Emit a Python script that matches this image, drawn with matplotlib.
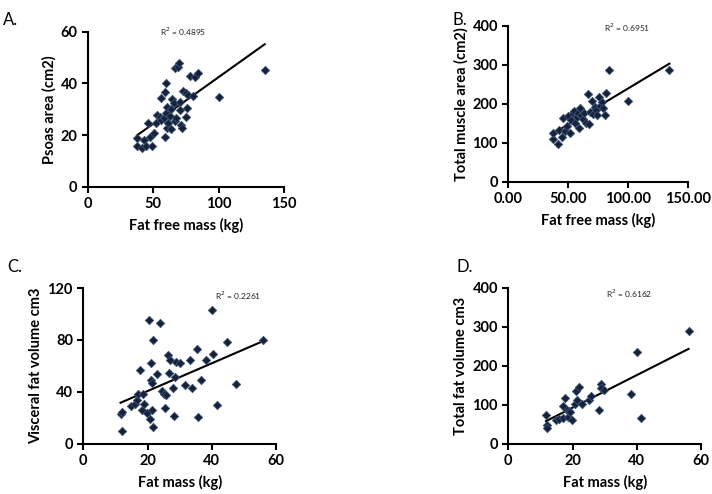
import numpy as np
import matplotlib
matplotlib.use('Agg')
import matplotlib.pyplot as plt

plt.rcParams['font.family'] = ['Lato', 'DejaVu Sans']

# A. psoas area vs fat free mass
a_x = [37.5, 37.8, 41.6, 42.6, 44.6, 45.9, 47.7, 48.7, 50.3, 52.3, 52.8, 54.8, 55.9, 56.1, 57.9,
       58.9, 59.2, 59.9, 59.9, 60.5, 60.7, 61.2, 62.5, 63.3, 63.8, 64.5, 65.6, 66.6, 66.8, 67.6,
       68.9, 69.6, 70.2, 70.2, 71.4, 72.2, 72.7, 74.7, 75.3, 76.0, 76.5, 77.8, 80.4, 81.6, 84.2,
       100.0, 135.2]
a_y = [15.7, 19.0, 15.0, 18.1, 15.7, 24.5, 19.4, 15.7, 20.9, 24.5, 27.7, 27.1, 34.2, 25.8, 26.5,
       19.4, 36.8, 40.3, 28.4, 31.0, 22.6, 24.5, 27.4, 22.2, 29.9, 33.8, 32.5, 45.8, 25.5, 26.5,
       46.4, 47.7, 32.9, 29.7, 23.9, 22.6, 37.2, 36.1, 27.1, 30.3, 35.5, 42.8, 35.1, 42.6, 44.1,
       34.6, 45.2]

# B. total muscle area vs fat free mass
b_x = [36.9, 37.5, 41.7, 42.5, 44.4, 45.8, 47.5, 48.9, 50.0, 51.7, 52.2, 53.6, 55.0, 55.8, 56.9,
       57.8, 58.6, 59.7, 60.6, 61.9, 63.3, 64.7, 66.4, 66.9, 68.1, 69.4, 70.8, 71.9, 73.1, 74.2,
       75.3, 76.4, 78.1, 79.2, 80.8, 81.4, 84.2, 99.4, 134.2]
b_y = [108.5, 123.9, 96.6, 132.5, 115.4, 162.4, 129.9, 142.7, 168.4, 123.9, 158.1, 175.2, 182.1,
       151.3, 166.7, 176.9, 136.8, 188.0, 170.9, 159.8, 175.2, 149.6, 223.9, 147.9, 179.5, 207.7,
       173.5, 192.3, 183.8, 170.9, 217.9, 194.0, 205.1, 188.0, 170.9, 228.2, 286.3, 207.7, 286.3]

# C. visceral fat volume vs fat mass
c_x = [11.6, 12.2, 12.1, 15.0, 16.1, 16.8, 17.1, 17.6, 18.2, 18.5, 18.9, 19.7, 20.4, 20.8, 21.0,
       21.2, 21.3, 21.5, 21.6, 21.8, 22.8, 23.9, 24.4, 25.1, 25.5, 25.7, 26.5, 26.7, 27.0, 28.0,
       28.2, 28.5, 28.9, 30.1, 31.7, 33.2, 33.7, 35.5, 35.8, 36.5, 38.2, 40.0, 40.5, 41.5, 44.6,
       47.5, 56.1]
c_y = [22.6, 24.4, 10.0, 29.3, 30.3, 33.4, 38.5, 56.8, 26.2, 38.5, 30.8, 23.6, 95.1, 19.3, 49.3,
       62.2, 25.7, 46.8, 12.6, 79.7, 53.5, 93.0, 40.6, 38.0, 27.5, 37.5, 68.1, 54.5, 64.8, 42.7,
       21.1, 51.4, 63.0, 62.2, 45.0, 64.3, 42.7, 73.2, 20.6, 49.3, 64.3, 102.8, 69.4, 29.6, 78.4,
       46.3, 80.2]

# D. total fat volume vs fat mass
d_x = [11.7, 12.0, 12.0, 14.8, 15.7, 16.9, 17.1, 17.7, 18.3, 18.5, 19.0, 19.2, 19.8, 20.6, 21.1,
       21.3, 21.9, 22.8, 25.2, 25.7, 28.1, 28.7, 28.9, 29.9, 38.1, 40.1, 41.3, 56.1]
d_y = [74.4, 47.0, 41.0, 59.8, 64.1, 97.4, 65.8, 117.9, 87.2, 68.4, 83.8, 81.2, 61.5, 102.6, 135.0,
       111.1, 145.3, 102.6, 111.1, 121.4, 85.5, 153.8, 143.6, 136.8, 128.2, 234.2, 65.0, 289.7]

panels = [
    dict(x=a_x, y=a_y, r2='R$^2$ = 0.4895', r2_pos=(73, 60), letter='A.', letter_pos=(0.004, 0.975),
         rect=[0.1236, 0.622, 0.2753, 0.3138], xlim=(0, 150), ylim=(0, 60),
         xticks=[0, 50, 100, 150], yticks=[0, 20, 40, 60], xfmt='{:.0f}',
         xlabel='Fat free mass (kg)', ylabel='Psoas area (cm2)'),
    dict(x=b_x, y=b_y, r2='R$^2$ = 0.6951', r2_pos=(99, 396), letter='B.', letter_pos=(0.636, 0.975),
         rect=[0.714, 0.632, 0.2528, 0.3158], xlim=(0, 150), ylim=(0, 400),
         xticks=[0, 50, 100, 150], yticks=[0, 100, 200, 300, 400], xfmt='{:.2f}',
         xlabel='Fat free mass (kg)', ylabel='Total muscle area (cm2)'),
    dict(x=c_x, y=c_y, r2='R$^2$ = 0.2261', r2_pos=(48.3, 114), letter='C.', letter_pos=(0.01, 0.475),
         rect=[0.117, 0.1018, 0.2706, 0.315], xlim=(0, 60), ylim=(0, 120),
         xticks=[0, 20, 40, 60], yticks=[0, 40, 80, 120], xfmt='{:.0f}',
         xlabel='Fat mass (kg)', ylabel='Visceral fat volume cm3'),
    dict(x=d_x, y=d_y, r2='R$^2$ = 0.6162', r2_pos=(37.7, 385), letter='D.', letter_pos=(0.641, 0.475),
         rect=[0.714, 0.1018, 0.2706, 0.3158], xlim=(0, 60), ylim=(0, 400),
         xticks=[0, 20, 40, 60], yticks=[0, 100, 200, 300, 400], xfmt='{:.0f}',
         xlabel='Fat mass (kg)', ylabel='Total fat volume cm3'),
]

fig = plt.figure(figsize=(7.12, 4.94), dpi=100)

for p in panels:
    ax = fig.add_axes(p['rect'])
    x = np.array(p['x'])
    y = np.array(p['y'])
    ax.scatter(x, y, marker='D', s=18, facecolor='#16223a', edgecolor='#3b5275', linewidth=0.6, zorder=3)
    slope, icpt = np.polyfit(x, y, 1)
    xs = np.array([x.min(), x.max()])
    ax.plot(xs, slope * xs + icpt, color='black', lw=1.5, zorder=2)
    ax.set_xlim(p['xlim'])
    ax.set_ylim(p['ylim'])
    ax.set_xticks(p['xticks'])
    ax.set_xticklabels([p['xfmt'].format(t) for t in p['xticks']])
    ax.set_yticks(p['yticks'])
    for s in ['top', 'right']:
        ax.spines[s].set_visible(False)
    for s in ['left', 'bottom']:
        ax.spines[s].set_linewidth(1.5)
    ax.tick_params(width=1.5, length=4, labelsize=10.5)
    for lab in ax.get_xticklabels() + ax.get_yticklabels():
        lab.set_fontweight('bold')
    ax.set_xlabel(p['xlabel'], fontsize=10.5, fontweight='bold', labelpad=5)
    ax.set_ylabel(p['ylabel'], fontsize=10.5, fontweight='bold', labelpad=3)
    ax.text(p['r2_pos'][0], p['r2_pos'][1], p['r2'], fontsize=6, ha='center', va='center', color='#222222')
    fig.text(p['letter_pos'][0], p['letter_pos'][1], p['letter'], fontsize=12, ha='left', va='top')

fig.savefig('out.png', dpi=100)
